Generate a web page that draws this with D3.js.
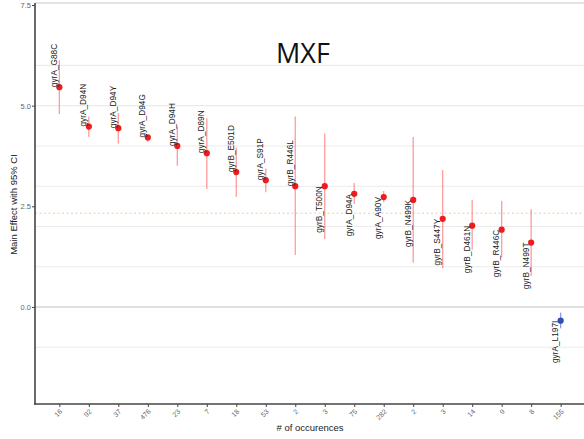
<!DOCTYPE html>
<html>
<head>
<meta charset="utf-8">
<script src="https://cdn.jsdelivr.net/npm/d3@7"></script>
<style>
  body { margin: 0; background: #fff; }
  svg { display: block; }
</style>
</head>
<body>
<div id="chart"></div>
<script>
// values
let mutations = ["gyrA_G88C", "gyrA_D94N", "gyrA_D94Y", "gyrA_D94G", "gyrA_D94H", "gyrA_D89N",
    "gyrB_E501D", "gyrA_S91P", "gyrB_R446L", "gyrB_T500N", "gyrA_D94A", "gyrA_A90V",
    "gyrB_N499K", "gyrB_S447Y", "gyrB_D461N", "gyrB_R446C", "gyrB_N499T", "gyrA_L197I"];
let occurences = ["16", "92", "37", "476", "23", "7", "18", "53", "2", "3", "75", "282", "2", "3", "14", "9", "8", "155"];
let effect = [5.46, 4.48, 4.44, 4.21, 4.00, 3.82, 3.35, 3.15, 3.00, 3.00, 2.81, 2.73, 2.66, 2.19, 2.02, 1.92, 1.60, -0.34];
let lower = [4.79, 4.23, 4.06, 4.10, 3.51, 2.93, 2.74, 2.85, 1.29, 1.69, 2.56, 2.60, 1.10, 0.96, 1.42, 1.23, 0.77, -0.53];
let upper = [6.13, 4.73, 4.81, 4.27, 4.48, 4.69, 3.96, 3.44, 4.73, 4.31, 3.08, 2.88, 4.22, 3.40, 2.66, 2.63, 2.43, -0.14];
let yTicks = [0, 2.5, 5, 7.5];
let gridValues = [-1, 0, 1, 2, 3, 4, 5, 6];
let refLine = 2.33;
let title = "MXF";

let data = mutations.map((m, i) => ({
    name: m,
    count: occurences[i],
    key: i,
    effect: effect[i],
    lo: lower[i],
    hi: upper[i]
}));

let W = 584, H = 439;
let panel = { left: 35, right: 585, top: 3, bottom: 404 };

let svg = d3.select("#chart")
    .append("svg")
    .attr("width", W)
    .attr("height", H)
    .style("font-family", "'Liberation Sans', Arial, sans-serif");

let x = d3.scalePoint()
    .domain(data.map(d => d.key))
    .range([panel.left, panel.right])
    .padding(0.826);

let y = d3.scaleLinear()
    .domain([-2.41, 7.55])
    .range([panel.bottom, panel.top]);

// grid
svg.append("g")
    .selectAll("line")
    .data(gridValues)
    .join("line")
    .attr("x1", panel.left)
    .attr("x2", W)
    .attr("y1", d => y(d))
    .attr("y2", d => y(d))
    .attr("stroke", d => d === 0 ? "#d6d6d6" : "#ebebeb")
    .attr("stroke-width", d => d === 0 ? 1.6 : 1.1);

// top border
svg.append("line")
    .attr("x1", panel.left).attr("x2", W)
    .attr("y1", panel.top).attr("y2", panel.top)
    .attr("stroke", "#c8c8c8").attr("stroke-width", 1);

// reference dashed line
svg.append("line")
    .attr("x1", panel.left).attr("x2", W)
    .attr("y1", y(refLine)).attr("y2", y(refLine))
    .attr("stroke", "#f3c9a0")
    .attr("stroke-width", 1)
    .attr("stroke-dasharray", "2,2.5");

// confidence intervals
svg.append("g")
    .selectAll("line")
    .data(data)
    .join("line")
    .attr("x1", d => x(d.key))
    .attr("x2", d => x(d.key))
    .attr("y1", d => y(d.lo))
    .attr("y2", d => y(d.hi))
    .attr("stroke", d => d.effect < 0 ? "#5b74d6" : "#ff7070")
    .attr("stroke-opacity", 0.7)
    .attr("stroke-width", 1.3);

// points
svg.append("g")
    .selectAll("circle")
    .data(data)
    .join("circle")
    .attr("cx", d => x(d.key))
    .attr("cy", d => y(d.effect))
    .attr("r", 3.1)
    .attr("fill", d => d.effect < 0 ? "#2f4fb5" : "#ee1c1c");

// mutation labels (first half above the point, second half below)
svg.append("g")
    .selectAll("text")
    .data(data)
    .join("text")
    .attr("transform", d => "translate(" + (x(d.key) - 2.5) + "," + y(d.effect) + ") rotate(-90)")
    .attr("text-anchor", (d, i) => i < data.length / 2 ? "start" : "end")
    .attr("font-size", "8.3px")
    .attr("fill", "#222")
    .text(d => d.name);

// title
svg.append("text")
    .attr("x", 303)
    .attr("y", 63)
    .attr("text-anchor", "middle")
    .attr("font-family", "'Open Sans', 'Noto Sans', sans-serif")
    .attr("font-size", "27px")
    .attr("fill", "#111")
    .text(title);

// x axis
let xAxis = d3.axisBottom(x)
    .tickSize(3)
    .tickFormat(k => occurences[k]);
let gx = svg.append("g")
    .attr("transform", "translate(0," + panel.bottom + ")")
    .call(xAxis);
gx.select(".domain").remove();
gx.selectAll(".tick line").attr("stroke", "#444");
gx.selectAll(".tick text")
    .attr("fill", "#666")
    .attr("font-size", "7px")
    .attr("text-anchor", "end")
    .attr("dy", null)
    .attr("y", 0)
    .attr("transform", "translate(3,8) rotate(-45)");

svg.append("line")
    .attr("x1", panel.left - 0.8).attr("x2", W)
    .attr("y1", panel.bottom).attr("y2", panel.bottom)
    .attr("stroke", "#444").attr("stroke-width", 1.6);

// y axis
let yAxis = d3.axisLeft(y)
    .tickValues(yTicks)
    .tickSize(3)
    .tickFormat(d3.format(".1f"));
let gy = svg.append("g")
    .attr("transform", "translate(" + panel.left + ",0)")
    .call(yAxis);
gy.select(".domain").remove();
gy.selectAll(".tick line").attr("stroke", "#444");
gy.selectAll(".tick text")
    .attr("fill", "#666")
    .attr("font-size", "7.5px")
    .attr("x", -4);

svg.append("line")
    .attr("x1", panel.left).attr("x2", panel.left)
    .attr("y1", panel.top).attr("y2", panel.bottom + 0.8)
    .attr("stroke", "#444").attr("stroke-width", 1.6);

// axis titles
svg.append("text")
    .attr("x", 310)
    .attr("y", 431)
    .attr("text-anchor", "middle")
    .attr("font-size", "9.5px")
    .attr("fill", "#222")
    .text("# of occurences");

svg.append("text")
    .attr("transform", "translate(16.5,204.5) rotate(-90)")
    .attr("text-anchor", "middle")
    .attr("font-size", "9.5px")
    .attr("fill", "#222")
    .text("Main Effect with 95% CI");
</script>
</body>
</html>
